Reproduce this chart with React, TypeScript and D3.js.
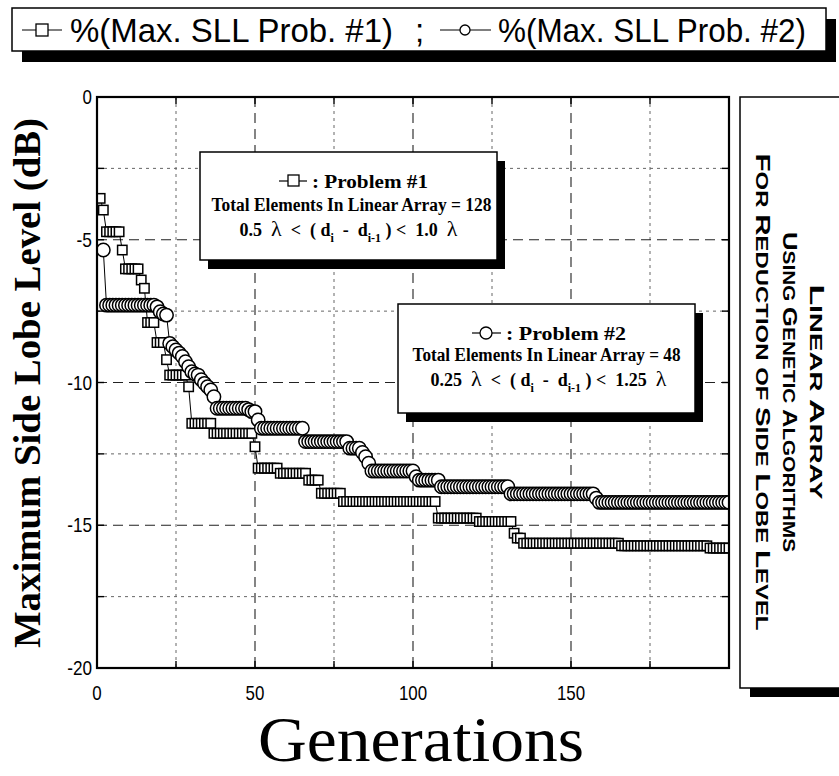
import React from 'react';
import * as d3 from 'd3';

// ---------- data ----------
const xTickLabels = [0, 50, 100, 150];
const yTickLabels = [0, -5, -10, -15, -20];
const xGridValues = [25, 50, 75, 100, 125, 150, 175];
const yGridValues = [-2.5, -5, -7.5, -10, -12.5, -15, -17.5];
const xTickMarks = [25, 50, 75, 100, 125, 150, 175];
const yTickMarks = [-2.5, -5, -7.5, -10, -12.5, -15, -17.5];

// Problem #1 (squares), generations starting at 1
const p1Start = 1;
const p1Values = [
  -3.55, -3.96,
  -4.72, -4.72, -4.72, -4.72, -4.72,
  -5.36,
  -6.02, -6.02, -6.02, -6.02, -6.02,
  -6.41, -6.7,
  -7.9, -7.9, -7.9,
  -8.6, -8.6, -8.6,
  -9.2,
  -9.74, -9.74, -9.74, -9.74, -9.74, -9.74,
  -10.15,
  -11.43, -11.43, -11.43, -11.43, -11.43, -11.43, -11.43,
  -11.78, -11.78, -11.78, -11.78, -11.78, -11.78, -11.78, -11.78, -11.78, -11.78,
  -11.78, -11.78, -11.78,
  -12.25,
  -13.0, -13.0, -13.0, -13.0, -13.0, -13.0, -13.0,
  -13.18, -13.18, -13.18, -13.18, -13.18, -13.18, -13.18, -13.18, -13.18,
  -13.42, -13.42, -13.42, -13.42,
  -13.88, -13.88, -13.88, -13.88, -13.88, -13.88, -13.88,
  -14.17, -14.17, -14.17, -14.17, -14.17, -14.17, -14.17, -14.17, -14.17, -14.17,
  -14.17, -14.17, -14.17, -14.17, -14.17, -14.17, -14.17, -14.17, -14.17, -14.17,
  -14.17, -14.17, -14.17, -14.17, -14.17, -14.17, -14.17, -14.17, -14.17, -14.17,
  -14.75, -14.75, -14.75, -14.75, -14.75, -14.75, -14.75, -14.75, -14.75, -14.75,
  -14.75, -14.75, -14.75,
  -14.87, -14.87, -14.87, -14.87, -14.87, -14.87, -14.87, -14.87, -14.87, -14.87,
  -14.87,
  -15.28,
  -15.45, -15.45,
  -15.63, -15.63, -15.63, -15.63, -15.63, -15.63, -15.63, -15.63, -15.63, -15.63,
  -15.63, -15.63, -15.63, -15.63, -15.63, -15.63, -15.63, -15.63, -15.63, -15.63,
  -15.63, -15.63, -15.63, -15.63, -15.63, -15.63, -15.63, -15.63, -15.63, -15.63,
  -15.63,
  -15.72, -15.72, -15.72, -15.72, -15.72, -15.72, -15.72, -15.72, -15.72, -15.72,
  -15.72, -15.72, -15.72, -15.72, -15.72, -15.72, -15.72, -15.72, -15.72, -15.72,
  -15.72, -15.72, -15.72, -15.72, -15.72, -15.72, -15.72, -15.72,
  -15.8, -15.8, -15.8, -15.8, -15.8, -15.8, -15.8,
];

// Problem #2 (circles), generations starting at 2
const p2Start = 2;
const p2Values = [
  -5.36,
  -7.29, -7.29, -7.29, -7.29, -7.29, -7.29, -7.29, -7.29, -7.29, -7.29,
  -7.29, -7.29, -7.29, -7.29, -7.29, -7.29,
  -7.35, -7.52, -7.6, -7.64,
  -8.63, -8.75, -8.86, -8.97, -9.09, -9.27, -9.45, -9.62, -9.7, -9.74,
  -9.9, -10.03, -10.15, -10.26, -10.5,
  -10.9, -10.9, -10.9, -10.9, -10.9, -10.9, -10.9, -10.9, -10.9, -10.9,
  -10.95,
  -11.02, -11.02,
  -11.31,
  -11.6, -11.6, -11.6, -11.6, -11.6, -11.6, -11.6, -11.6, -11.6, -11.6,
  -11.6, -11.6, -11.6, -11.6,
  -12.07, -12.07, -12.07, -12.07, -12.07, -12.07, -12.07, -12.07, -12.07, -12.07,
  -12.07, -12.07, -12.07, -12.07, -12.3, -12.3, -12.3, -12.3,
  -12.45, -12.6, -12.83,
  -13.1, -13.1, -13.1, -13.1, -13.1, -13.1, -13.1, -13.1, -13.1, -13.1,
  -13.1, -13.1, -13.1, -13.1,
  -13.3,
  -13.42, -13.42, -13.42, -13.42, -13.42, -13.42, -13.42,
  -13.65, -13.65, -13.65, -13.65, -13.65, -13.65, -13.65, -13.65, -13.65, -13.65,
  -13.65, -13.65, -13.65, -13.65, -13.65, -13.65, -13.65, -13.65, -13.65, -13.65,
  -13.65, -13.65,
  -13.9, -13.9, -13.9, -13.9, -13.9, -13.9, -13.9, -13.9, -13.9, -13.9,
  -13.9, -13.9, -13.9, -13.9, -13.9, -13.9, -13.9, -13.9, -13.9, -13.9,
  -13.9, -13.9, -13.9, -13.9, -13.9, -13.9, -13.9,
  -14.05,
  -14.2, -14.2, -14.2, -14.2, -14.2, -14.2, -14.2, -14.2, -14.2, -14.2,
  -14.2, -14.2, -14.2, -14.2, -14.2, -14.2, -14.2, -14.2, -14.2, -14.2,
  -14.2, -14.2, -14.2, -14.2, -14.2, -14.2, -14.2, -14.2, -14.2, -14.2,
  -14.2, -14.2, -14.2, -14.2, -14.2, -14.2, -14.2, -14.2, -14.2, -14.2,
  -14.2, -14.2,
];

const legendLabels = ['%(Max. SLL Prob. #1)', '%(Max. SLL Prob. #2)'];
const sideTitleLines = ['Linear Array', 'Using Genetic Algorithms', 'For Reduction of Side Lobe Level'];
const xTitle = 'Generations';
const yTitle = 'Maximum Side Lobe Level (dB)';
const box1Lines = [': Problem #1', 'Total Elements In Linear Array = 128', '0.5', '1.0'];
const box2Lines = [': Problem #2', 'Total Elements In Linear Array = 48', '0.25', '1.25'];

type Pt = { g: number; v: number };

const SANS = "'Liberation Sans Narrow', 'Liberation Sans', Arial, sans-serif";
const SERIF = "'Liberation Serif', 'Times New Roman', serif";

function tickWidth(s: string) {
  let w = 0;
  for (const c of s) w += c === '-' ? 6 : 9.4;
  return w;
}

function smallCapsRuns(s: string) {
  const runs: { t: string; big: boolean }[] = [];
  for (const ch of s) {
    const big = ch !== ' ' && ch === ch.toUpperCase();
    const last = runs[runs.length - 1];
    if (ch === ' ' && last) { last.t += ' '; continue; }
    if (last && last.big === big) last.t += ch.toUpperCase();
    else runs.push({ t: ch.toUpperCase(), big });
  }
  return runs;
}

function SpacingFormula({ cx, y, a, b }: { cx: number; y: number; a: string; b: string }) {
  return (
    <text x={cx} y={y} textAnchor="middle" fontFamily={SERIF} fontWeight="bold" fontSize={18} style={{ whiteSpace: 'pre' }}>
      {a + '  '}
      <tspan fontWeight="normal" fontSize={22}>λ</tspan>
      <tspan>{'  <  ( d'}</tspan>
      <tspan dy={6} fontSize={12}>i</tspan>
      <tspan dy={-6}>{'  -  d'}</tspan>
      <tspan dy={6} fontSize={12}>i-1</tspan>
      <tspan dy={-6}>{' ) <  ' + b + '  '}</tspan>
      <tspan fontWeight="normal" fontSize={22}>λ</tspan>
    </text>
  );
}

export default function App() {
  const W = 839;
  const H = 776;
  const L = 97, R = 729, T = 97, B = 668;
  const x = d3.scaleLinear().domain([0, 200]).range([L, R]);
  const y = d3.scaleLinear().domain([-20, 0]).range([B, T]);

  const p1: Pt[] = p1Values.map((v, i) => ({ g: p1Start + i, v }));
  const p2: Pt[] = p2Values.map((v, i) => ({ g: p2Start + i, v }));
  const line = d3.line<Pt>().x((d) => x(d.g)).y((d) => y(d.v));

  const sq = 9.4;
  const cr = 6.7;

  const box1 = { x: 200, y: 152, w: 297, h: 108 };
  const box2 = { x: 398, y: 304, w: 297, h: 109 };
  const b1cx = box1.x + box1.w / 2;
  const b2cx = box2.x + box2.w / 2;

  return (
    <svg width={W} height={H} style={{ position: 'absolute', left: 0, top: 0, background: '#fff' }}>
      <defs>
        <clipPath id="plotClip">
          <rect x={L} y={T} width={R - L} height={B - T} />
        </clipPath>
      </defs>
      <rect x={0} y={0} width={W} height={H} fill="#fff" />

      {/* Legend */}
      <rect x={22} y={19} width={814} height={43} fill="#000" />
      <rect x={12} y={8} width={814} height={43} fill="#fff" stroke="#000" strokeWidth={1.5} />
      <line x1={22} x2={62} y1={30} y2={30} stroke="#000" strokeWidth={1.2} />
      <rect x={36} y={24} width={12} height={12} fill="#fff" stroke="#000" strokeWidth={1.3} />
      <text x={70} y={42} fontFamily={SANS} fontSize={33} textLength={323} lengthAdjust="spacingAndGlyphs">{legendLabels[0]}</text>
      <text x={415} y={42} fontFamily={SANS} fontSize={33}>;</text>
      <line x1={440} x2={491} y1={30} y2={30} stroke="#000" strokeWidth={1.2} />
      <circle cx={465} cy={30} r={5} fill="#fff" stroke="#000" strokeWidth={1.3} />
      <text x={498} y={42} fontFamily={SANS} fontSize={33} textLength={308} lengthAdjust="spacingAndGlyphs">{legendLabels[1]}</text>

      {/* Grid */}
      {xGridValues.map((g) => {
        const major = g % 50 === 0;
        return (
          <line key={'gx' + g} x1={x(g)} x2={x(g)} y1={T} y2={B}
            stroke={major ? '#222' : '#666'} strokeWidth={major ? 1.1 : 1}
            strokeDasharray={major ? '10,6' : '3,4'} />
        );
      })}
      {yGridValues.map((v) => {
        const major = v % 5 === 0;
        return (
          <line key={'gy' + v} x1={L} x2={R} y1={y(v)} y2={y(v)}
            stroke={major ? '#222' : '#666'} strokeWidth={major ? 1.1 : 1}
            strokeDasharray={major ? '10,6' : '3,4'} />
        );
      })}

      {/* Tick marks (inward, all sides) */}
      {xTickMarks.map((g) => (
        <g key={'tx' + g} stroke="#000" strokeWidth={1.4}>
          <line x1={x(g)} x2={x(g)} y1={B} y2={B - 7} />
          <line x1={x(g)} x2={x(g)} y1={T} y2={T + 7} />
        </g>
      ))}
      {yTickMarks.map((v) => (
        <g key={'ty' + v} stroke="#000" strokeWidth={1.4}>
          <line x1={L} x2={L + 7} y1={y(v)} y2={y(v)} />
          <line x1={R} x2={R - 7} y1={y(v)} y2={y(v)} />
        </g>
      ))}

      {/* Data */}
      <g clipPath="url(#plotClip)">
        <path d={line(p1) || ''} fill="none" stroke="#000" strokeWidth={1} />
        {p1.map((d, i) => (
          <rect key={'s' + i} x={x(d.g) - sq / 2} y={y(d.v) - sq / 2} width={sq} height={sq}
            fill="#fff" stroke="#000" strokeWidth={1.5} />
        ))}
        <path d={line(p2) || ''} fill="none" stroke="#000" strokeWidth={1} />
        {p2.map((d, i) => (
          <circle key={'c' + i} cx={x(d.g)} cy={y(d.v)} r={cr} fill="#fff" stroke="#000" strokeWidth={1.5} />
        ))}
      </g>

      {/* Plot frame */}
      <rect x={L} y={T} width={R - L} height={B - T} fill="none" stroke="#000" strokeWidth={2.2} />

      {/* Tick labels */}
      {yTickLabels.map((v) => (
        <text key={'yl' + v} x={92} y={y(v)} dy="0.34em" textAnchor="end" fontFamily={SANS} fontSize={21}
          textLength={tickWidth(String(v))} lengthAdjust="spacingAndGlyphs">{String(v)}</text>
      ))}
      {xTickLabels.map((g) => (
        <text key={'xl' + g} x={x(g)} y={700} textAnchor="middle" fontFamily={SANS} fontSize={21}
          textLength={tickWidth(String(g))} lengthAdjust="spacingAndGlyphs">{String(g)}</text>
      ))}

      {/* Axis titles */}
      <text x={0} y={0} transform="translate(40,383) rotate(-90)" textAnchor="middle" fontFamily={SERIF}
        fontWeight="bold" fontSize={38} textLength={530} lengthAdjust="spacingAndGlyphs">{yTitle}</text>
      <text x={421} y={761} textAnchor="middle" fontFamily={SERIF} fontSize={64} textLength={326}
        lengthAdjust="spacingAndGlyphs">{xTitle}</text>

      {/* Annotation box 1 */}
      <rect x={box1.x + 8} y={box1.y + 9} width={box1.w} height={box1.h} fill="#000" />
      <rect x={box1.x} y={box1.y} width={box1.w} height={box1.h} fill="#fff" stroke="#000" strokeWidth={1.5} />
      <line x1={279} x2={307} y1={181} y2={181} stroke="#000" strokeWidth={1.2} />
      <rect x={288} y={175} width={11} height={11} fill="#fff" stroke="#000" strokeWidth={1.3} />
      <text x={312} y={188} fontFamily={SERIF} fontWeight="bold" fontSize={18} textLength={116}
        lengthAdjust="spacingAndGlyphs">{box1Lines[0]}</text>
      <text x={b1cx + 3} y={211} textAnchor="middle" fontFamily={SERIF} fontWeight="bold" fontSize={18}
        textLength={280} lengthAdjust="spacingAndGlyphs">{box1Lines[1]}</text>
      <SpacingFormula cx={b1cx} y={236} a={box1Lines[2]} b={box1Lines[3]} />

      {/* Annotation box 2 */}
      <rect x={box2.x + 8} y={box2.y + 9} width={box2.w} height={box2.h} fill="#000" />
      <rect x={box2.x} y={box2.y} width={box2.w} height={box2.h} fill="#fff" stroke="#000" strokeWidth={1.5} />
      <line x1={472} x2={501} y1={333} y2={333} stroke="#000" strokeWidth={1.2} />
      <circle cx={486} cy={333} r={6} fill="#fff" stroke="#000" strokeWidth={1.3} />
      <text x={506} y={340} fontFamily={SERIF} fontWeight="bold" fontSize={18} textLength={120}
        lengthAdjust="spacingAndGlyphs">{box2Lines[0]}</text>
      <text x={b2cx} y={361} textAnchor="middle" fontFamily={SERIF} fontWeight="bold" fontSize={18}
        textLength={268} lengthAdjust="spacingAndGlyphs">{box2Lines[1]}</text>
      <SpacingFormula cx={b2cx + 2} y={386} a={box2Lines[2]} b={box2Lines[3]} />

      {/* Right side title box */}
      <rect x={750} y={106} width={120} height={591} fill="#000" />
      <rect x={740} y={97} width={120} height={591} fill="#fff" stroke="#000" strokeWidth={1.5} />
      {sideTitleLines.map((s, i) => {
        const cx = [818, 791, 764][i];
        const len = [215, 320, 477][i];
        return (
          <text key={'st' + i} x={0} y={0} transform={`translate(${cx},392) rotate(90)`} textAnchor="middle"
            dy="0.36em" fontFamily="'Liberation Sans', Arial, sans-serif" fontWeight="bold"
            fontSize={21} textLength={len} lengthAdjust="spacingAndGlyphs" style={{ whiteSpace: 'pre' }}>
            {smallCapsRuns(s).map((r, k) => (
              <tspan key={k} fontSize={r.big ? 21 : 17}>{r.t}</tspan>
            ))}
          </text>
        );
      })}
    </svg>
  );
}
